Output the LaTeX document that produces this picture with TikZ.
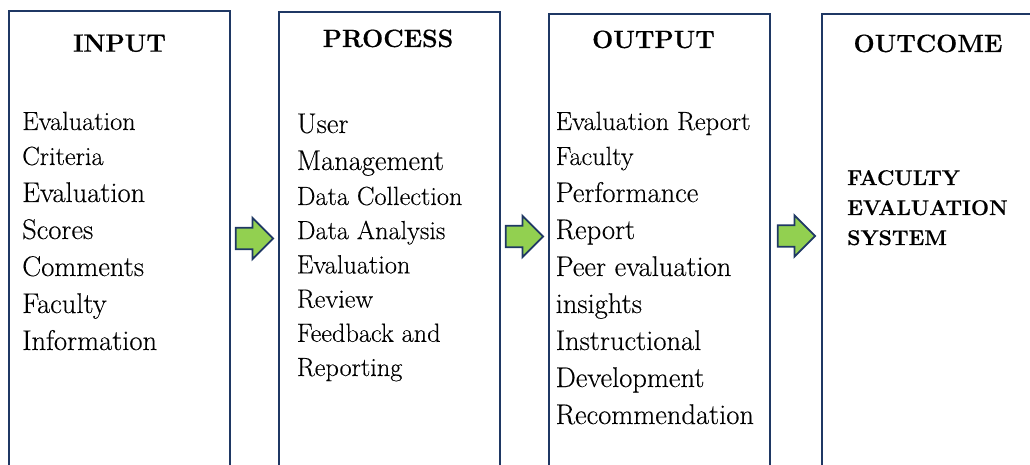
\documentclass[tikz,border=0pt]{standalone}
\usepackage{fontspec}
\setmainfont{Latin Modern Roman}[UprightFeatures={FakeBold=0.25}, BoldFeatures={FakeBold=0.5}]
\usetikzlibrary{positioning, shapes.arrows}
\definecolor{navy}{RGB}{31,56,100}
\definecolor{leafgreen}{RGB}{146,208,80}

\begin{document}
\begin{tikzpicture}[x=1pt, y=1pt,
  frame/.style={draw=navy, line width=1.8pt, anchor=north west, minimum width=221pt,
                minimum height=480pt, inner sep=0pt, outer sep=0pt},
  head/.style={anchor=base, inner sep=0pt, font=\bfseries\fontsize{25}{30}\selectfont},
  big/.style={anchor=base west, inner sep=0pt, font=\fontsize{28.5}{30}\selectfont},
  small/.style={anchor=base west, inner sep=0pt, font=\fontsize{26.3}{30}\selectfont},
  caps/.style={anchor=base west, inner sep=0pt, font=\bfseries\fontsize{21.3}{26}\selectfont},
  flow/.style={single arrow, draw=navy, fill=leafgreen, line width=1.8pt, anchor=tail,
               minimum height=37.5pt, single arrow head extend=10pt, inner sep=9.8pt, outer sep=0pt}]
  \useasboundingbox (0,0) rectangle (1030,464);
  \clip (0,0) rectangle (1030,464);

  \node[frame] (input)   at (9,453)     {};
  \node[frame] (process) at (279.3,452) {};
  \node[frame] (output)  at (549.3,449.7) {};
  \node[frame] (outcome) at (822,449.7) {};

  \node[flow] (a1) at (235.7,225.5) {};
  \node[flow] (a2) at (505.7,227.5) {};
  \node[flow] (a3) at (777.7,228)   {};

  \node[head] (t-in)   at (119.5,412.3) {INPUT};
  \node[head] (t-pr)   at (388,417)     {PROCESS};
  \node[head] (t-out)  at (653.5,416)   {OUTPUT};
  \node[head] (t-oc)   at (928,412)     {OUTCOME};

  % input
  \node[small] (in-s1) at (22,334) {Evaluation};
  \node[small] (in-s2) at (22,299) {Criteria};
  \foreach \txt [count=\i] in {Evaluation,Scores,Comments,Faculty,Information}
    \node[big] (in-b\i) at (22,{299-37*\i}) {\txt};

  % process
  \node[big] (pr-b1) at (296.7,331) {User};
  \node[big] (pr-b2) at (296.7,294) {Management};
  \foreach \txt [count=\i] in {Data Collection,Data Analysis,Evaluation,Review,Feedback and,Reporting}
    \node[small] (pr-s\i) at (296.7,{293.2-34.2*\i}) {\txt};

  % output
  \node[small] (out-s1) at (555.5,334) {Evaluation Report};
  \node[small] (out-s2) at (555.5,299) {Faculty};
  \foreach \txt [count=\i] in {Performance,Report,Peer evaluation,insights,Instructional,Development,Recommendation}
    \node[big] (out-b\i) at (555.5,{299-37*\i}) {\txt};

  % outcome
  \foreach \txt [count=\i] in {FACULTY,EVALUATION,SYSTEM}
    \node[caps] (oc-\i) at (847,{309-30*\i}) {\txt};
\end{tikzpicture}
\end{document}
